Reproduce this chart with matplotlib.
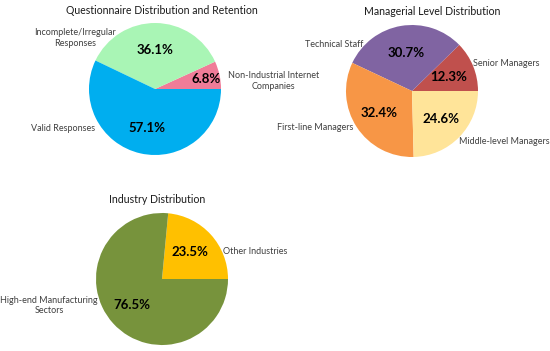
import matplotlib
matplotlib.use("Agg")
import matplotlib.pyplot as plt

plt.rcParams['font.family'] = ['Lato', 'DejaVu Sans']

# chart 1: questionnaire distribution
q_labels = ["Non-Industrial Internet\nCompanies", "Incomplete/Irregular\nResponses", "Valid Responses"]
q_values = [6.8, 36.1, 57.1]
q_colors = ["#F07C98", "#A9F5B5", "#00AEEF"]

# chart 2: managerial level
m_labels = ["Senior Managers", "Technical Staff", "First-line Managers", "Middle-level Managers"]
m_values = [12.3, 30.7, 32.4, 24.6]
m_colors = ["#C0504D", "#8064A2", "#F79646", "#FFE499"]

# chart 3: industry
i_labels = ["Other Industries", "High-end Manufacturing\nSectors"]
i_values = [23.5, 76.5]
i_colors = ["#FFC000", "#77933C"]

W, H = 550, 351
fig = plt.figure(figsize=(5.5, 3.51), dpi=100)


def make_ax(cx, cy, r=66):
    # square axes centred on the pie centre (pixel coords)
    ax = fig.add_axes([(cx - r) / W, 1 - (cy + r) / H, 2 * r / W, 2 * r / H])
    ax.axis("off")
    return ax


def draw(ax, values, colors, labels, label_pos, pct_pos, title, title_x, title_y):
    ax.pie(values, colors=colors, startangle=0, counterclock=True, radius=1)
    ax.set_xlim(-1, 1)
    ax.set_ylim(-1, 1)
    for v, lab, (px, py), (lx, ly, ha) in zip(values, labels, pct_pos, label_pos):
        ax.text(px, py, f"{v:.1f}%", ha="center", va="center", fontsize=9.5, fontweight="bold")
        ax.text(lx, ly, lab, ha=ha, va="center", fontsize=6.5, color="#404040",
                multialignment="center", linespacing=1.25)
    ax.text(title_x, title_y, title, ha="center", va="center", fontsize=7.6, color="#1a1a1a")


ax1 = make_ax(155, 89)
draw(ax1, q_values, q_colors, q_labels,
     [(1.79, 0.12, "center"), (-1.21, 0.77, "center"), (-0.91, -0.6, "right")],
     [(0.77, 0.15), (0.0, 0.59), (-0.12, -0.59)],
     "Questionnaire Distribution and Retention", 0.1, 1.19)

ax2 = make_ax(412, 91)
draw(ax2, m_values, m_colors, m_labels,
     [(0.92, 0.42, "left"), (-0.74, 0.71, "right"), (-0.89, -0.56, "right"), (0.71, -0.77, "left")],
     [(0.56, 0.21), (-0.09, 0.58), (-0.5, -0.33), (0.44, -0.42)],
     "Managerial Level Distribution", 0.3, 1.2)

ax3 = make_ax(162, 279)
draw(ax3, i_values, i_colors, i_labels,
     [(0.92, 0.42, "left"), (-1.71, -0.4, "center")],
     [(0.42, 0.41), (-0.45, -0.39)],
     "Industry Distribution", -0.08, 1.2)

fig.savefig("out.png", dpi=100)
